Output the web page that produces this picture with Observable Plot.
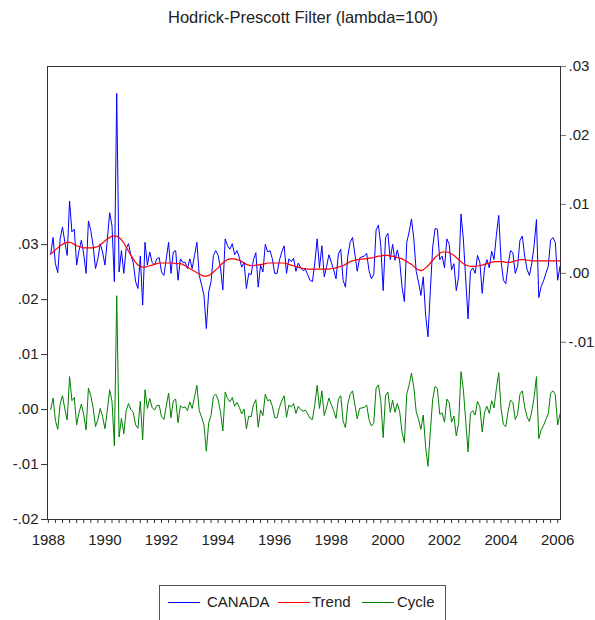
<!DOCTYPE html>
<html><head><meta charset="utf-8">
<script src="https://cdn.jsdelivr.net/npm/d3@7"></script>
<script src="https://cdn.jsdelivr.net/npm/@observablehq/plot@0.6"></script>
<style>
body{margin:0;background:#fff;font-family:"Liberation Sans",Arial,sans-serif;}
#wrap{position:relative;width:595px;height:620px;overflow:hidden;background:#fff;}
#title{position:absolute;left:0;width:606px;top:7px;text-align:center;font-size:16.5px;line-height:20px;color:#222;z-index:5;}
.layer{position:absolute;left:0;top:0;}
#legend{position:absolute;left:159px;top:585px;width:287px;height:40px;border:1px solid #555;box-sizing:border-box;background:#fff;z-index:5;}
.sw{position:absolute;top:16px;width:32px;height:0;border-top:1px solid;}
.lt{position:absolute;top:7px;font-size:15px;line-height:18px;color:#222;white-space:nowrap;}
</style>
</head><body>
<div id="wrap">
  <div id="layerL" class="layer"></div>
  <div id="layerR" class="layer"></div>
  <div id="title">Hodrick-Prescott Filter (lambda=100)</div>
  <div id="legend"></div>
</div>
<script>
// ---- data (monthly, 1988M02 .. 2006M02) ----
const startYear = 1988, startMonth = 2;
const canada = [
 .0028,.0052,.0014,.0001,.0050,.0067,.0045,.0026,.0105,.0060,.0064,.0012,
 .0033,.0048,.0028,.0000,.0076,.0062,.0040,.0007,.0021,.0043,.0031,.0012,
 .0048,.0088,.0069,-.0012,.0261,.0002,.0033,.0000,.0036,.0043,.0026,.0016,
 -.0012,-.0022,.0025,-.0046,.0045,.0012,.0031,.0016,.0012,.0021,.0023,.0002,
 -.0003,.0021,.0045,.0000,.0031,.0033,-.0010,.0021,.0016,.0016,.0007,.0021,
 .0007,.0026,.0045,-.0003,-.0017,-.0032,-.0080,-.0027,-.0012,.0026,.0033,.0026,
 .0008,-.0024,.0050,.0040,.0035,.0043,.0027,.0033,.0023,.0009,.0016,-.0022,
 .0000,-.0002,.0020,.0030,-.0020,.0012,.0002,.0042,.0031,.0033,.0021,.0000,
 .0000,.0019,.0031,.0040,.0000,.0021,.0017,.0022,.0003,.0015,.0008,.0004,
 .0006,-.0002,-.0010,-.0012,.0015,.0050,.0008,.0040,-.0005,.0010,.0027,.0016,
 .0005,-.0008,.0028,.0035,-.0010,-.0020,.0025,.0045,.0052,.0028,.0003,.0022,
 .0024,.0025,.0029,.0004,-.0008,-.0002,.0063,.0070,.0040,-.0025,.0052,.0058,
 .0020,.0042,.0019,.0034,.0018,-.0020,-.0041,.0045,.0060,.0079,.0050,.0003,
 -.0013,-.0032,-.0005,-.0060,-.0092,-.0025,.0038,.0065,.0064,.0020,.0025,.0008,
 .0050,.0042,.0005,.0014,-.0025,-.0005,.0086,.0050,-.0008,-.0066,.0003,.0008,
 .0000,.0026,.0016,-.0029,.0008,.0020,.0008,.0032,.0020,.0055,.0084,.0018,
 -.0010,-.0015,.0013,.0033,.0030,.0000,.0010,.0048,.0054,.0025,.0006,-.0003,
 .0014,.0040,.0078,-.0035,-.0019,-.0011,.0000,.0010,.0048,.0052,.0045,-.0010,
 .0010];
const trend = [
 .0028,.0031,.0034,.0037,.0040,.0042,.0044,.0045,.0045,.0044,.0042,.0040,
 .0039,.0038,.0037,.0037,.0037,.0037,.0037,.0038,.0039,.0041,.0044,.0047,
 .0050,.0052,.0054,.0054,.0054,.0052,.0049,.0044,.0038,.0032,.0026,.0021,
 .0016,.0012,.0010,.0009,.0009,.0010,.0011,.0012,.0013,.0014,.0015,.0015,
 .0015,.0015,.0015,.0015,.0015,.0014,.0014,.0014,.0013,.0011,.0009,.0007,
 .0005,.0003,.0001,-.0001,-.0003,-.0004,-.0004,-.0003,-.0001,.0002,.0005,.0008,
 .0012,.0015,.0018,.0020,.0021,.0021,.0021,.0020,.0019,.0017,.0015,.0013,
 .0012,.0011,.0011,.0012,.0012,.0013,.0013,.0014,.0015,.0015,.0015,.0015,
 .0015,.0015,.0015,.0015,.0014,.0013,.0012,.0011,.0010,.0009,.0008,.0007,
 .0007,.0006,.0006,.0006,.0006,.0006,.0006,.0006,.0006,.0006,.0006,.0007,
 .0007,.0008,.0009,.0010,.0011,.0013,.0015,.0017,.0018,.0019,.0020,.0020,
 .0021,.0021,.0021,.0022,.0022,.0023,.0024,.0025,.0025,.0026,.0026,.0026,
 .0025,.0025,.0024,.0023,.0022,.0021,.0019,.0017,.0015,.0013,.0010,.0007,
 .0005,.0004,.0005,.0008,.0011,.0015,.0019,.0023,.0026,.0029,.0031,.0031,
 .0031,.0030,.0028,.0026,.0023,.0020,.0017,.0014,.0012,.0011,.0010,.0010,
 .0010,.0011,.0011,.0012,.0013,.0014,.0015,.0016,.0017,.0017,.0017,.0017,
 .0017,.0016,.0016,.0016,.0017,.0018,.0019,.0020,.0020,.0020,.0019,.0019,
 .0018,.0018,.0018,.0018,.0018,.0018,.0018,.0018,.0018,.0018,.0018,.0018,
 .0018];
const cycle = [
 .0000,.0021,-.0020,-.0036,.0010,.0025,.0001,-.0019,.0060,.0016,.0022,-.0028,
 -.0006,.0010,-.0009,-.0037,.0039,.0025,.0003,-.0031,-.0018,.0002,-.0013,-.0035,
 -.0002,.0036,.0015,-.0066,.0207,-.0050,-.0016,-.0044,-.0002,.0011,.0000,-.0005,
 -.0028,-.0034,.0015,-.0055,.0036,.0002,.0020,.0004,-.0001,.0007,.0008,-.0013,
 -.0018,.0006,.0030,-.0015,.0016,.0019,-.0024,.0007,.0003,.0005,-.0002,.0014,
 .0002,.0023,.0044,-.0002,-.0014,-.0028,-.0076,-.0024,-.0011,.0024,.0028,.0018,
 -.0004,-.0039,.0032,.0020,.0014,.0022,.0006,.0013,.0004,-.0008,.0001,-.0035,
 -.0012,-.0013,.0009,.0018,-.0032,-.0001,-.0011,.0028,.0016,.0018,.0006,-.0015,
 -.0015,.0004,.0016,.0025,-.0014,.0008,.0005,.0011,-.0007,.0006,.0000,-.0003,
 -.0001,-.0008,-.0016,-.0018,.0009,.0044,.0002,.0034,-.0011,.0004,.0021,.0009,
 -.0002,-.0016,.0019,.0025,-.0021,-.0033,.0010,.0028,.0034,.0009,-.0017,.0002,
 .0003,.0004,.0008,-.0018,-.0030,-.0025,.0039,.0045,.0015,-.0051,.0026,.0032,
 -.0005,.0017,-.0005,.0011,-.0004,-.0041,-.0060,.0028,.0045,.0066,.0040,-.0004,
 -.0018,-.0036,-.0010,-.0068,-.0103,-.0040,.0019,.0042,.0038,-.0009,-.0006,-.0023,
 .0019,.0012,-.0023,-.0012,-.0048,-.0025,.0069,.0036,-.0020,-.0077,-.0007,-.0002,
 -.0010,.0015,.0005,-.0041,-.0005,.0006,-.0007,.0016,.0003,.0038,.0067,.0001,
 -.0027,-.0031,-.0003,.0017,.0013,-.0018,-.0009,.0028,.0034,.0005,-.0013,-.0022,
 -.0004,.0022,.0060,-.0053,-.0037,-.0029,-.0018,-.0008,.0030,.0034,.0027,-.0028,
 -.0008];

const leftTicks  = [-0.02, -0.01, 0, 0.01, 0.02, 0.03];
const leftLabels = ["-.02", "-.01", ".00", ".01", ".02", ".03"];
const rightTicks  = [-0.01, 0, 0.01, 0.02, 0.03];
const rightLabels = ["-.01", ".00", ".01", ".02", ".03"];
const yearTicks  = [1988,1990,1992,1994,1996,1998,2000,2002,2004,2006];
const yearLabels = ["1988","1990","1992","1994","1996","1998","2000","2002","2004","2006"];
const seriesNames = ["CANADA", "Trend", "Cycle"];
const seriesColors = ["#0000ff", "#ff0000", "#008000"];

// ---- derived helpers ----
const dates = canada.map((_, i) => startYear + (startMonth - 1 + i) / 12);
const leftMap = new Map(leftTicks.map((t, i) => [t, leftLabels[i]]));
const rightMap = new Map(rightTicks.map((t, i) => [t, rightLabels[i]]));
const yearMap = new Map(yearTicks.map((t, i) => [t, yearLabels[i]]));
const quarterTicks = d3.range(1988, 2006.001, 0.25);

const W = 595, H = 560, mL = 47, mR = 35, mT = 66, mB = 41;
const font = "'Liberation Sans', Arial, sans-serif";
const xDomain = [1987.97, 2006.1];

const plotL = Plot.plot({
  width: W, height: H, marginLeft: mL, marginRight: mR, marginTop: mT, marginBottom: mB,
  style: {fontFamily: font, fontSize: "15px", color: "#222", background: "white", overflow: "visible"},
  x: {domain: xDomain, axis: null},
  y: {domain: [-0.02, 0.0624], axis: null},
  marks: [
    Plot.line(cycle, {x: (d, i) => dates[i], y: d => d, stroke: seriesColors[2], strokeWidth: 1}),
    Plot.axisY(leftTicks, {anchor: "left", tickSize: 6, tickPadding: 3, tickFormat: d => leftMap.get(d), fontSize: 15, stroke: "#333", fill: "#222"}),
    Plot.axisX(quarterTicks, {anchor: "bottom", tickSize: 4, tickFormat: () => "", stroke: "#333"}),
    Plot.axisX(yearTicks, {anchor: "bottom", tickSize: 0, tickPadding: 15, tickFormat: d => yearMap.get(d), fontSize: 15, fill: "#222"}),
    Plot.frame({stroke: "#333"})
  ]
});
document.getElementById("layerL").appendChild(plotL);

const plotR = Plot.plot({
  width: W, height: H, marginLeft: mL, marginRight: mR, marginTop: mT, marginBottom: mB,
  style: {fontFamily: font, fontSize: "15px", color: "#222", background: "transparent", overflow: "visible"},
  x: {domain: xDomain, axis: null},
  y: {domain: [-0.0357, 0.03], axis: null},
  marks: [
    Plot.line(canada, {x: (d, i) => dates[i], y: d => d, stroke: seriesColors[0], strokeWidth: 1}),
    Plot.line(trend, {x: (d, i) => dates[i], y: d => d, stroke: seriesColors[1], strokeWidth: 1.2}),
    Plot.axisY(rightTicks, {anchor: "right", tickSize: 5, tickPadding: 3, tickFormat: d => rightMap.get(d), fontSize: 15, stroke: "#777", fill: "#222"})
  ]
});
document.getElementById("layerR").appendChild(plotR);

// ---- legend ----
const legend = document.getElementById("legend");
const swLeft = [8, 118, 202];
const txLeft = [47, 152, 237];
seriesNames.forEach((name, i) => {
  const sw = document.createElement("div");
  sw.className = "sw"; sw.style.left = swLeft[i] + "px"; sw.style.borderTopColor = seriesColors[i];
  legend.appendChild(sw);
  const tx = document.createElement("div");
  tx.className = "lt"; tx.style.left = txLeft[i] + "px"; tx.textContent = name;
  legend.appendChild(tx);
});
</script>
</body></html>
